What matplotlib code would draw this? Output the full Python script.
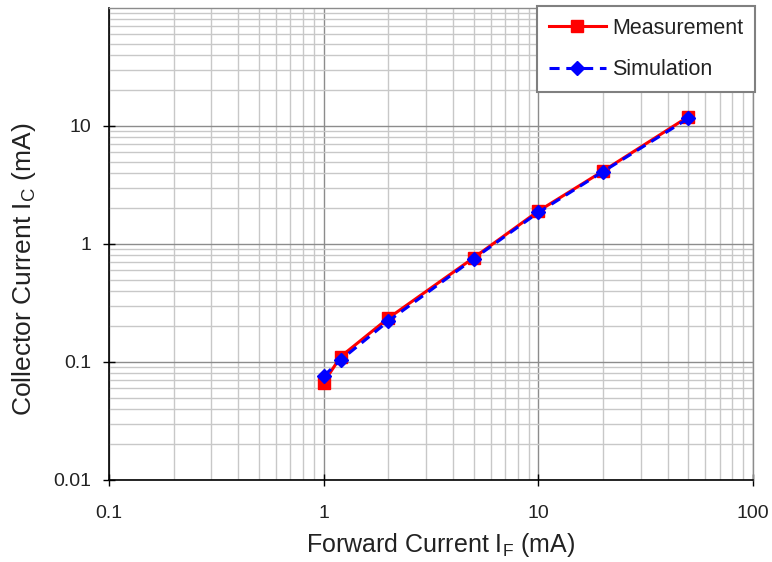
import matplotlib
matplotlib.use("Agg")
import matplotlib.pyplot as plt
from matplotlib.ticker import FixedLocator, FixedFormatter, LogLocator, NullFormatter

plt.rcParams['font.family'] = ['Liberation Sans', 'DejaVu Sans']

forward_current = [1, 1.2, 2, 5, 10, 20, 50]
measurement = [0.067, 0.111, 0.235, 0.765, 1.9, 4.15, 12.0]
simulation = [0.076, 0.104, 0.222, 0.75, 1.85, 4.1, 11.6]

x_ticks = [0.1, 1, 10, 100]
x_labels = ['0.1', '1', '10', '100']
y_ticks = [0.01, 0.1, 1, 10]
y_labels = ['0.01', '0.1', '1', '10']

fig = plt.figure(figsize=(7.72, 5.62), dpi=100)
ax = fig.add_axes([109/772, 1-480/562, (753-109)/772, (480-8)/562])
ax.set_xscale('log')
ax.set_yscale('log')
ax.set_xlim(0.1, 100)
ax.set_ylim(0.01, 100)

ax.xaxis.set_major_locator(FixedLocator(x_ticks))
ax.xaxis.set_major_formatter(FixedFormatter(x_labels))
ax.yaxis.set_major_locator(FixedLocator(y_ticks))
ax.yaxis.set_major_formatter(FixedFormatter(y_labels))
ax.xaxis.set_minor_locator(LogLocator(base=10, subs=range(2, 10)))
ax.yaxis.set_minor_locator(LogLocator(base=10, subs=range(2, 10)))
ax.xaxis.set_minor_formatter(NullFormatter())
ax.yaxis.set_minor_formatter(NullFormatter())

ax.grid(True, which='minor', color='#c8c8c8', linewidth=1.0)
ax.grid(True, which='major', color='#8c8c8c', linewidth=1.0)
ax.set_axisbelow(True)

ax.tick_params(which='major', direction='inout', length=8, width=1.0,
               labelsize=14, colors='black', labelcolor='#222222')
ax.tick_params(axis='x', which='major', pad=14)
ax.tick_params(axis='y', which='major', pad=9)
ax.tick_params(which='minor', length=0)

for s in ['left', 'bottom']:
    ax.spines[s].set_color('black')
    ax.spines[s].set_linewidth(1.2)
for s in ['top', 'right']:
    ax.spines[s].set_color('#8c8c8c')
    ax.spines[s].set_linewidth(1.0)

ax.plot(forward_current, measurement, color='#ff0000', linewidth=2.2,
        marker='s', markersize=9, label='Measurement', zorder=3)
ax.plot(forward_current, simulation, color='#0000ff', linewidth=2.2,
        linestyle=(0, (3.3, 2.2)), marker='D', markersize=7.5,
        label='Simulation', zorder=4)

xl = ax.set_xlabel('Forward Current I$_{\\mathregular{F}}$ (mA)', fontsize=18, color='#222222')
yl = ax.set_ylabel('Collector Current I$_{\\mathregular{C}}$ (mA)', fontsize=19, color='#222222')
xl.set_va('center')
yl.set_va('center')
ax.xaxis.set_label_coords((441-109)/644, (480-545)/472)
ax.yaxis.set_label_coords((24-109)/644, (480-269)/472)

leg = ax.legend(loc='upper right', bbox_to_anchor=(755/772, 1-6/562),
                bbox_transform=fig.transFigure, fontsize=15.5, frameon=True,
                fancybox=False, framealpha=1, edgecolor='#808080',
                handlelength=2.65, borderpad=0.55, labelspacing=0.95,
                handletextpad=0.28, borderaxespad=0)
leg.get_frame().set_linewidth(1.5)
for t in leg.get_texts():
    t.set_color('#222222')

fig.savefig('out.png', dpi=100)
